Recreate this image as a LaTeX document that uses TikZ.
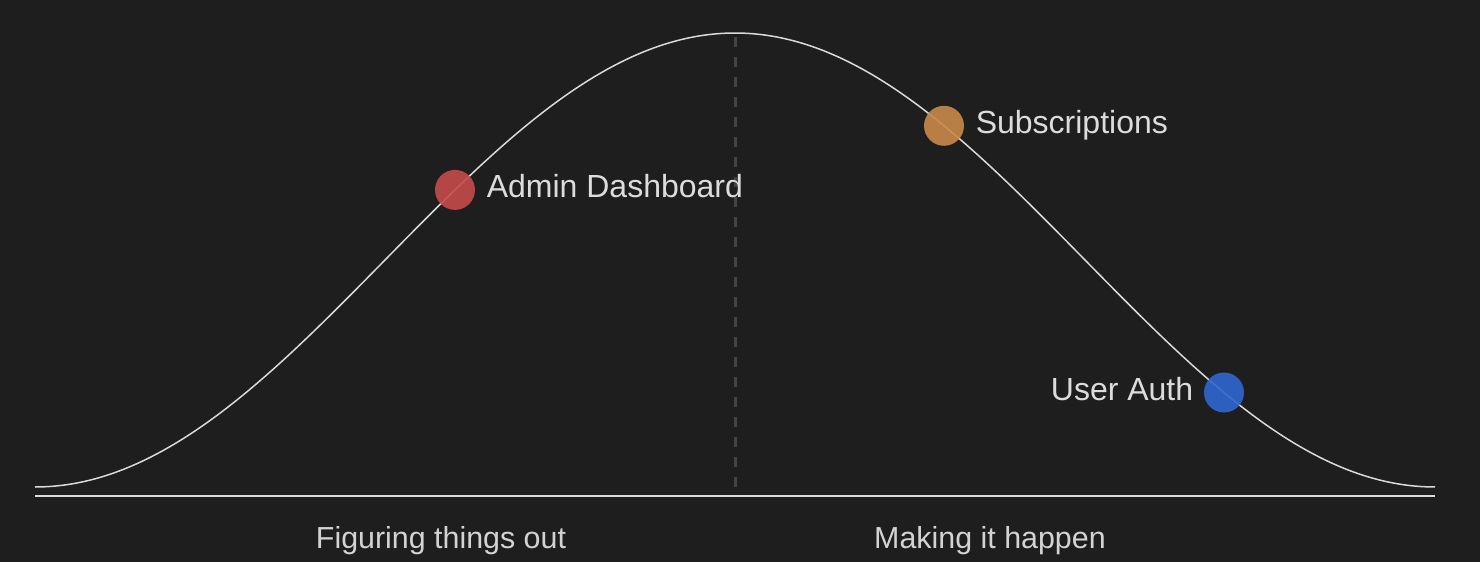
\documentclass[tikz,border=0pt]{standalone}
\usepackage{fontspec}
\setmainfont{Liberation Sans}
\usetikzlibrary{positioning}
\definecolor{bgcol}{HTML}{1E1E1E}
\definecolor{linecol}{HTML}{DADADA}
\definecolor{dashcol}{HTML}{444444}
\definecolor{txtcol}{HTML}{DCDCDC}
\definecolor{redcol}{HTML}{C64B4B}
\definecolor{orangecol}{HTML}{C8894B}
\definecolor{bluecol}{HTML}{2F67D0}

\begin{document}
\begin{tikzpicture}[x=.5pt,y=-.5pt,
    dot/.style={circle,minimum size=20pt,inner sep=0pt,fill opacity=.9},
    lbl/.style={text=txtcol,font=\fontsize{16}{18}\selectfont,inner sep=0pt},
    phase/.style={text=txtcol!95!bgcol,font=\fontsize{15.2}{18}\selectfont,inner sep=0pt,anchor=base}]
 %background
    \fill[bgcol] (0,0) rectangle (1480,562);
    \useasboundingbox (0,0) rectangle (1480,562);
  %midline and base
    \coordinate (top) at (735,37);
    \coordinate (bot) at (735,487);
    \draw[dashcol,line width=1.5pt,dash pattern=on 5pt off 5pt] (top) -- (bot);
    \coordinate (b1) at (35,496);
    \coordinate (b2) at (1435,496);
    \draw[linecol,line width=1pt] (b1) -- (b2);
  %the curve
    \draw[linecol,line width=.75pt] plot[domain=-180:180,samples=200,smooth] ({735+\x*3.88889},{487-227*(1+cos(\x))});
  %draw dots
    \node[dot,fill=redcol] (admin) at (455,189.9) {};
    \node[dot,fill=orangecol] (subs) at (944,125.8) {};
    \node[dot,fill=bluecol] (auth) at (1224,392.5) {};
  %labels
    \node[lbl,anchor=base west] (ladmin) at ([xshift=5.5pt,yshift=-4pt]admin.east) {Admin Dashboard};
    \node[lbl,anchor=base west] (lsubs) at ([xshift=5.5pt,yshift=-3.7pt]subs.east) {Subscriptions};
    \node[lbl,anchor=base east] (lauth) at ([xshift=-5pt,yshift=-4pt]auth.west) {User Auth};
    \node[phase] (fig) at (441,548) {Figuring things out};
    \node[phase] (make) at (990,548) {Making it happen};
\end{tikzpicture}
\end{document}
